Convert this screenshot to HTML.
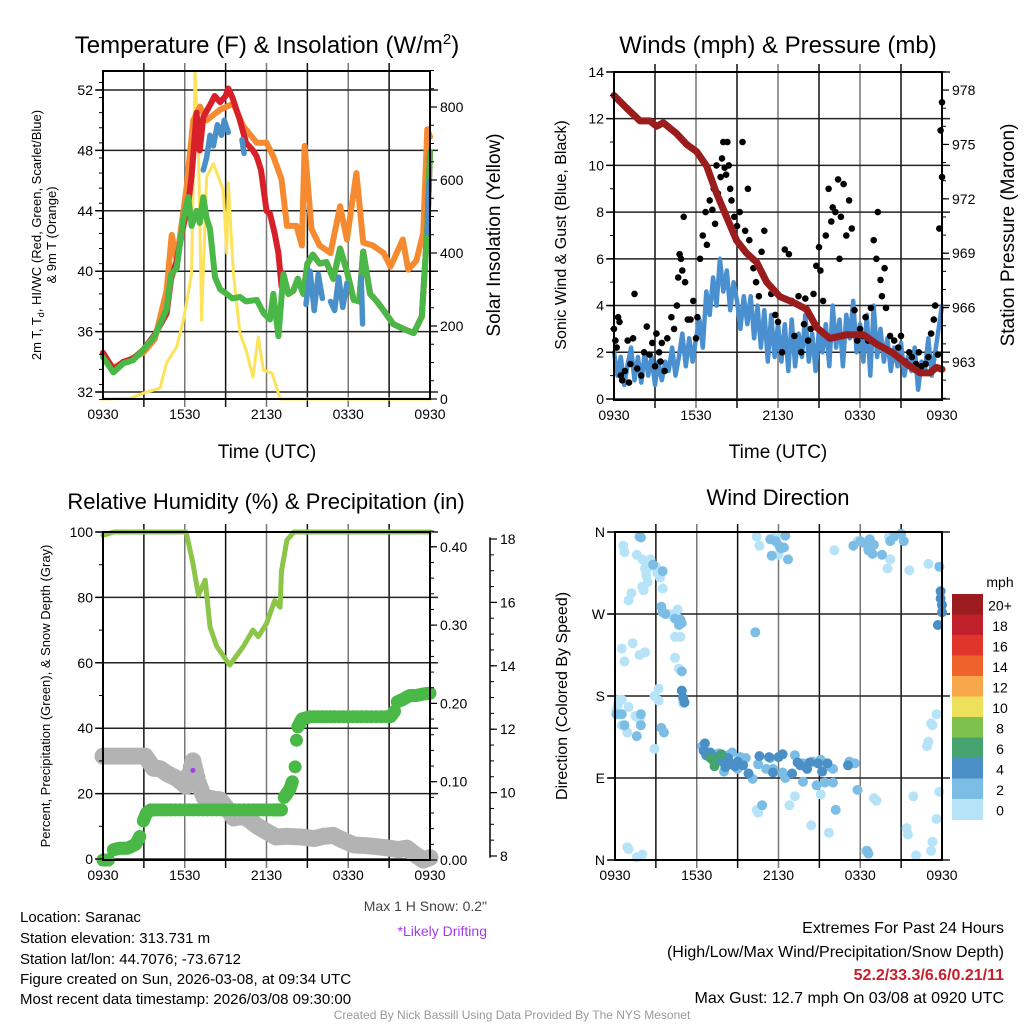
<!DOCTYPE html>
<html><head><meta charset="utf-8"><style>
html,body{margin:0;padding:0;background:#fff;}
svg{display:block;font-family:"Liberation Sans",Arial,sans-serif;}
</style></head><body>
<svg id="chart" width="1024" height="1024" viewBox="0 0 1024 1024">
<rect width="1024" height="1024" fill="#fff"/>
<g id="grid"></g>
<g id="marks"></g>
<g id="axes"></g>
<g id="texts">
<text x="267" y="53" font-size="24" text-anchor="middle">Temperature (F) &amp; Insolation (W/m<tspan dy="-9" font-size="15">2</tspan><tspan dy="9">)</tspan></text>
<text x="778" y="53" font-size="24" text-anchor="middle">Winds (mph) &amp; Pressure (mb)</text>
<text x="266" y="509" font-size="22" text-anchor="middle">Relative Humidity (%) &amp; Precipitation (in)</text>
<text x="778" y="505" font-size="22" text-anchor="middle">Wind Direction</text>
<text x="267" y="458" font-size="19" text-anchor="middle">Time (UTC)</text>
<text x="778" y="458" font-size="19" text-anchor="middle">Time (UTC)</text>
<text transform="translate(41,235) rotate(-90)" font-size="13" text-anchor="middle">2m T, T<tspan dy="3" font-size="9">d</tspan><tspan dy="-3">, HI/WC (Red, Green, Scarlet/Blue)</tspan></text>
<text transform="translate(56,235) rotate(-90)" font-size="13" text-anchor="middle">&amp; 9m T (Orange)</text>
<text transform="translate(500,235) rotate(-90)" font-size="19" text-anchor="middle">Solar Insolation (Yellow)</text>
<text transform="translate(566,235) rotate(-90)" font-size="16" text-anchor="middle">Sonic Wind &amp; Gust (Blue, Black)</text>
<text transform="translate(1014,235) rotate(-90)" font-size="19" text-anchor="middle">Station Pressure (Maroon)</text>
<text transform="translate(50,696) rotate(-90)" font-size="13" text-anchor="middle">Percent, Precipitation (Green), &amp; Snow Depth (Gray)</text>
<text transform="translate(567,696) rotate(-90)" font-size="16" text-anchor="middle">Direction (Colored By Speed)</text>
<text x="1000" y="587" font-size="14" text-anchor="middle">mph</text>
<g font-size="15">
<text x="20" y="922">Location: Saranac</text>
<text x="20" y="943">Station elevation: 313.731 m</text>
<text x="20" y="964">Station lat/lon: 44.7076; -73.6712</text>
<text x="20" y="984">Figure created on Sun, 2026-03-08, at 09:34 UTC</text>
<text x="20" y="1004">Most recent data timestamp: 2026/03/08 09:30:00</text>
</g>
<text x="487" y="911" font-size="14" fill="#444" text-anchor="end">Max 1 H Snow: 0.2"</text>
<text x="487" y="936" font-size="14" fill="#a53be8" text-anchor="end">*Likely Drifting</text>
<text x="1004" y="933" font-size="16" text-anchor="end">Extremes For Past 24 Hours</text>
<text x="1004" y="957" font-size="16" text-anchor="end">(High/Low/Max Wind/Precipitation/Snow Depth)</text>
<text x="1004" y="980" font-size="16" font-weight="bold" fill="#c8202a" text-anchor="end">52.2/33.3/6.6/0.21/11</text>
<text x="1004" y="1003" font-size="16" text-anchor="end">Max Gust: 12.7 mph On 03/08 at 0920 UTC</text>
<text x="512" y="1019" font-size="12" fill="#999" text-anchor="middle">Created By Nick Bassill Using Data Provided By The NYS Mesonet</text>
</g>
</svg>
<script>
// ---- data (hours since 0930 UTC) ----
const timeTickLabels = ["0930","1530","2130","0330","0930"];
const redT = [0,0.76,1.5,2.2,2.96,3.8,4.67,5.0,5.41,5.9,6.26,6.5,6.87,7.1,7.36,7.85,8.2,8.6,9.0,9.2,9.5,10.05,10.5,11.0,11.28,11.6,12.0,12.26,12.6,12.87,13.1];
const redV = [34.6,33.5,34.0,34.2,34.8,35.8,37.2,39.5,40.7,43.0,44.5,46.3,50.5,48.0,50.2,51.0,51.6,51.2,51.6,52.1,51.5,50.0,48.5,48.0,47.6,46.7,44.0,43.8,42.5,41.2,39.0];
const greenT = [0,0.76,1.5,2.2,2.96,3.8,4.67,5.0,5.41,5.9,6.26,6.5,6.87,7.1,7.36,7.6,7.85,8.22,8.6,9.08,9.5,10.05,10.5,11.28,11.8,12.26,12.5,12.87,13.24,13.6,13.97,14.3,14.7,15.0,15.4,15.9,16.4,16.9,17.4,17.9,18.4,18.8,19.1,19.6,20.1,20.6,21.3,22.0,22.8,23.4,23.8,24];
const greenV = [34.3,33.3,33.9,34.1,34.8,35.7,37.5,39.8,40.2,43.5,44.9,43.0,44.0,43.2,44.9,43.5,42.8,39.6,38.8,38.5,38.2,38.3,38.0,38.1,37.2,36.8,38.5,35.7,39.8,38.5,38.7,39.5,38.5,40.5,41.1,40.5,40.6,39.5,41.5,40.0,38.1,38.0,41.3,38.5,38.0,37.4,36.5,36.2,35.9,37.0,42.8,47.9];
const orangeT = [0,0.76,2.96,3.8,4.67,5.04,5.41,6.14,6.63,7.12,7.6,8.6,9.57,10.3,11.28,12.0,12.5,13.1,13.5,14.2,14.6,14.8,15.3,15.9,16.7,17.4,17.9,18.6,19.1,19.8,20.6,21.1,22.0,22.4,23.0,23.5,23.8,24];
const orangeV = [34.4,33.6,34.6,35.5,38.7,42.4,40.7,45.6,50.0,50.9,50.0,50.7,51.1,49.6,48.5,48.5,47.6,46.1,43.0,43.0,41.7,48.3,42.8,41.7,41.2,44.3,42.1,46.5,41.9,41.7,41.2,40.3,42.1,40.1,40.7,42.5,49.4,48.9];
const blueT = [7.36,7.6,7.85,8.1,8.4,8.7,8.9,9.2,null,10.2,10.35,null,14.9,15.2,15.5,15.8,16.1,null,16.7,17.0,17.3,17.6,17.9,null,18.95,19.05,null,23.8,23.95];
const blueV = [46.7,47.5,49.0,48.3,49.7,49.0,50.0,49.2,null,48.7,47.8,null,37.8,40.0,37.4,39.8,38.2,null,38.0,37.4,39.6,37.6,39.2,null,39.6,36.5,null,42.5,46.0];
const solarT = [0,2.0,2.96,4.18,4.67,5.41,5.9,6.26,6.5,6.75,7.0,7.24,7.6,8.1,8.83,9.08,9.2,9.57,10.05,10.5,11.0,11.4,11.77,12.4,13.0,24];
const solarV = [0,2,16,30,99,143,216,290,345,897,700,216,608,645,572,400,592,345,181,134,60,170,79,71,0,0];
// winds
const sonicV = [2.0,1.0,1.8,0.6,1.5,2.2,0.8,1.8,0.7,2.0,1.0,1.8,0.6,1.6,0.8,1.6,
 1.2,2.2,1.0,1.8,2.8,1.4,2.6,1.6, 2.6,3.4,2.2,4.6,3.6,5.2,4.0,6.0, 4.6,5.5,3.8,5.0,4.2,3.0,4.4,3.2,
 4.4,2.6,4.0,2.2,3.8,1.6,3.6,1.8, 3.2,1.6,3.2,1.2,3.4,1.4,2.8,1.8, 3.6,1.6,2.8,1.2,3.0,2.0,3.2,1.4,
 4.0,2.2,3.4,1.4,3.6,2.6,4.2,2.0, 3.2,1.6,3.6,1.0,4.0,1.8,3.0,1.6, 2.6,1.2,2.2,1.4,2.4,1.0,1.8,1.2,
 2.2,0.4,1.6,1.2,2.6,1.0,2.0,3.0,4.0];
const gustT = [0.0,0.1,0.2,0.3,0.4,0.5,0.6,0.8,1.0,1.1,1.2,1.4,1.5,1.7,2.0,2.2,2.4,2.6,2.8,3.0,3.1,3.3,3.4,3.5,3.7,3.9,4.2,4.4,4.6,4.7,4.8,4.9,5.0,5.1,5.2,5.4,5.6,5.8,6.0,6.1,6.3,6.5,6.7,6.8,7.0,7.2,7.3,7.4,7.5,7.6,7.8,7.9,8.0,8.1,8.2,8.3,8.4,8.5,8.6,8.8,9.0,9.2,9.4,9.6,9.8,9.9,10.2,10.4,10.6,10.8,11.0,11.2,11.5,11.8,12.0,12.3,12.5,12.8,13.0,13.2,13.5,13.7,13.9,14.0,14.2,14.4,14.6,14.8,15.0,15.1,15.3,15.5,15.7,15.9,16.0,16.2,16.4,16.5,16.6,16.8,17.0,17.2,17.4,17.6,17.8,18.0,18.2,18.4,18.6,18.8,19.0,19.2,19.3,19.5,19.6,19.8,19.9,20.2,20.5,20.8,21.0,21.3,21.6,21.8,22.1,22.3,22.5,22.8,23.0,23.2,23.4,23.5,23.7,23.8,23.9,24.0,24.0];
const gustV = [3.0,2.5,2.2,3.5,3.3,1.0,0.8,1.2,2.5,0.7,1.5,2.6,4.5,1.3,1.0,2.0,3.1,1.9,2.4,1.4,2.8,2.0,1.6,2.4,1.2,2.6,3.5,3.0,4.0,5.2,6.2,6.0,5.5,7.8,5.0,3.4,3.4,4.2,2.6,3.5,6.0,7.0,8.0,6.6,8.5,8.1,9.0,7.5,10.0,8.8,9.5,10.3,11.0,9.9,9.6,11.0,10.0,9.0,8.5,7.8,7.4,8.0,11.0,7.2,9.0,6.8,5.6,5.0,4.4,6.3,7.2,5.0,4.5,3.6,3.3,2.0,6.4,6.2,4.2,2.7,4.4,2.0,3.2,4.3,2.5,3.0,4.5,5.7,6.5,5.5,4.2,7.0,9.0,7.6,8.2,8.0,9.4,6.0,7.8,9.2,7.0,8.5,7.3,3.8,2.5,3.0,2.7,3.5,2.5,3.9,6.8,6.0,8.0,5.1,4.4,5.6,3.9,2.7,2.5,2.2,2.7,1.6,2.0,1.8,1.5,2.0,1.4,1.5,1.8,2.8,3.4,4.0,1.9,7.3,11.5,12.7,9.5];
const presT = [0,0.93,1.9,2.63,3.12,3.61,4.58,5.32,6.05,6.78,7.51,8.24,8.97,9.7,10.44,11.17,12.14,13.1,14.1,14.83,15.8,17.0,18.24,19.2,20.4,21.4,22.4,23.1,23.6,24];
const presV = [977.7,977.0,976.3,976.3,976.0,976.2,975.6,975.0,974.6,973.8,972.3,971.0,969.7,969.0,968.5,967.4,966.6,966.3,965.9,964.9,964.3,964.5,964.5,964.0,963.5,962.9,962.4,962.4,962.7,962.6];
// humidity / precip / snow
const rhT = [0,0.8,6.1,6.6,7.0,7.5,7.85,8.35,9.3,10.3,11.0,11.4,12.0,12.6,13.0,13.1,13.5,14.0,24];
const rhV = [99,100,100,90.5,80.7,85.3,71,65,59.3,65,70,68,72,79,77,88,97.5,100,100];
const precipT = [0,0.4,0.76,1.2,1.8,2.4,2.7,2.96,3.2,3.5,5,7,9,11,12.5,13.1,13.3,13.5,13.7,13.9,14.1,14.2,14.3,14.6,15.2,17,19,21.1,21.4,21.6,22.0,22.5,23.0,23.5,24];
const precipV = [0,0,0.013,0.015,0.015,0.02,0.03,0.05,0.06,0.064,0.064,0.064,0.064,0.064,0.064,0.064,0.08,0.085,0.09,0.1,0.119,0.153,0.17,0.18,0.183,0.183,0.183,0.183,0.19,0.202,0.205,0.21,0.21,0.212,0.213];
const snowT = [0,1,2,3.1,3.7,4.2,4.7,5.4,6.1,6.6,7.0,7.4,8.0,8.6,9.1,9.6,10.3,10.8,11.3,11.8,12.3,12.7,13.5,14.5,15.5,16.2,16.9,17.6,18.4,19.2,20.0,21.0,21.7,22.3,22.9,23.5,24];
const snowV = [11.15,11.15,11.15,11.15,10.77,10.75,10.6,10.45,10.2,11.0,10.3,9.87,9.8,9.77,9.5,9.2,9.25,9.12,8.95,8.82,8.7,8.6,8.62,8.6,8.55,8.62,8.65,8.5,8.35,8.33,8.3,8.25,8.2,8.25,8.05,7.87,7.95];
// wind direction [hour, degrees, speed]
const dirT = [0.6,0.7,1.6,2.0,2.5,2.3,2.2,2.3,2.4,2.0,2.1,1.2,1.0,0.5,1.3,2.2,1.8,0.7,0.3,0.5,0.2,0.1,1.0,1.5,1.8,0.5,0.9,2.9,2.9,3.2,3.2,3.3,3.0,2.6,3.1,3.5,4.0,4.3,4.6,4.7,4.4,4.8,4.4,4.7,5.0,5.0,0.9,1.0,2.0,1.6,10.4,10.6,11.8,11.9,12.0,16.1,17.8,20.1,20.2,21.6,20.0,23.0,23.8,23.6,23.2,23.3,23.0,22.9,21.9,21.4,21.5,23.6,23.3,23.2,22.1,18.4,15.7,14.4,15.1,10.4,10.5,13.2,19.2,19.0,12.8,
 1.8,1.9,2.8,3.5,3.4,3.5,3.7,4.4,4.8,4.9,4.7,4.9,3.6,3.4,0.5,0.7,1.6,1.9,1.9,0.1,11.4,11.8,12.1,12.4,12.2,11.5,12.7,12.5,17.5,18.0,18.7,18.3,19.0,18.6,18.9,19.6,20.2,20.5,21.0,21.2,10.3,23.8,6.4,6.6,7.6,8.3,9.2,10.5,11.1,11.6,12.3,13.2,13.8,14.5,15.1,15.6,16.0,17.2,17.6,8.0,9.0,10.1,12.5,13.8,14.8,15.4,16.0,10.8,16.2,17.8,18.5,18.6,8.6,9.6,11.4,
 6.6,6.5,6.8,7.0,7.2,7.5,7.8,8.3,8.6,9.0,9.4,10.6,11.3,12.0,12.3,13.4,13.6,14.1,14.3,14.9,15.6,17.1,6.7,7.3,8.1,8.8,9.8,11.6,13.0,15.2,4.9,5.0,5.1,23.9,23.9,24.0,24.0,23.7,7.3,7.9,
 7.0,7.2,7.8,7.3];
const dirV = [345,338,335,330,322,318,320,312,305,300,296,293,285,232,238,228,225,218,176,176,170,165,168,158,155,148,140,122,180,175,188,310,322,330,315,298,270,270,275,265,245,245,222,210,175,172,14,12,6,3,355,345,356,348,335,340,350,355,330,318,320,325,75,160,150,148,130,125,70,35,28,45,20,10,5,10,30,38,72,55,52,70,65,68,60,
 355,354,324,317,278,272,270,265,264,260,258,207,140,145,160,148,136,160,148,160,352,350,344,343,342,334,330,356,345,350,352,348,346,340,336,335,350,355,358,350,250,322,125,120,117,115,113,105,100,100,96,115,106,108,110,103,100,108,106,97,100,89,90,86,82,85,85,60,55,77,10,7,118,112,112,
 128,120,116,118,114,110,110,112,105,108,104,114,113,113,116,107,104,100,107,106,106,104,115,107,102,103,95,96,95,97,186,178,173,295,287,280,272,258,108,108,
 112,110,116,103];
const dirS = [1,1,1,1,1,1,1,1,1,1,1,1,1,1,1,1,1,1,1,1,1,1,1,1,1,1,1,1,1,1,1,1,1,1,1,1,1,1,1,1,1,1,1,1,1,1,1,1,1,1,1,1,1,1,1,1,1,1,1,1,1,1,1,1,1,1,1,1,1,1,1,1,1,1,1,1,1,1,1,1,1,1,1,1,1,
 3,3,3,3,3,3,3,3,3,3,3,3,3,3,3,3,3,3,3,3,3,3,3,3,3,3,3,3,3,3,3,3,3,3,3,3,3,3,3,3,3,3,3,3,3,3,3,3,3,3,3,3,3,3,3,3,3,3,3,3,3,3,3,3,3,3,3,3,3,3,3,3,3,3,3,
 5,5,5,5,5,5,5,5,5,5,5,5,5,5,5,5,5,5,5,5,5,5,5,5,5,5,5,5,5,5,5,5,5,5,5,5,5,5,5,5,
 7,7,7,7];
const cbLabels = ["20+","18","16","14","12","10","8","6","4","2","0"];
const cbColors = ["#9b1b1e","#c0202a","#e0352a","#f0622b","#f8a84a","#ede05b","#7ec24d","#44a36e","#4a8fc6","#7cbde6","#b6e3f8"];

// ---- scales ----
const NS="http://www.w3.org/2000/svg";
const P1={L:103,R:430,T:71,B:399}, P2={L:614,R:942,T:72,B:400}, P3={L:103,R:430,T:532,B:860}, P4={L:615,R:942,T:532,B:860};
const xs=(P,h)=>P.L+h*(P.R-P.L)/24;
const yTemp=v=>90+(52-v)*15.1;
const ySolar=v=>399-v*0.365;
const yWind=v=>399-v*23.36;
const yPres=v=>362-(v-963)*18.13;
const yPct=v=>859-v*3.27;
const yPrecip=v=>860-v*783;
const ySnow=v=>856-(v-8)*31.7;
const yDir=v=>860-v*0.911;
const G=document.getElementById('grid'), M=document.getElementById('marks'), A=document.getElementById('axes');
function mk(tag,parent,attrs){const e=document.createElementNS(NS,tag);for(const k in attrs)e.setAttribute(k,attrs[k]);parent.appendChild(e);return e;}
function pathFrom(P,ts,vs,yf){let d='',pen=false;for(let i=0;i<ts.length;i++){if(ts[i]===null||vs[i]===null){pen=false;continue;}d+=(pen?'L':'M')+xs(P,ts[i]).toFixed(1)+','+yf(vs[i]).toFixed(1);pen=true;}return d;}
function line(P,ts,vs,yf,color,w,name){const e=mk('path',M,{d:pathFrom(P,ts,vs,yf),fill:'none',stroke:color,'stroke-width':w,'stroke-linejoin':'round','stroke-linecap':'round'});
 
 return e;}
function dots(P,ts,vs,yf,color,r,name){const g=mk('g',M,{fill:color});
 
 
 for(let i=0;i<ts.length;i++){mk('circle',g,{cx:xs(P,ts[i]).toFixed(1),cy:yf(vs[i]).toFixed(1),r:r});}}
function grid(P,yVals,yf){for(let h=3;h<24;h+=3){const l=mk('line',G,{x1:xs(P,h),x2:xs(P,h),y1:P.T-8,y2:P.B+8,stroke:(h%6===0)?'#777':'#111','stroke-width':1.5});
 
 }
 yVals.forEach(v=>{const l=mk('line',G,{x1:P.L-8,x2:P.R+8,y1:yf(v),y2:yf(v),stroke:'#222','stroke-width':1.5});
 
 });}
function frame(P,name){const r=mk('rect',A,{x:P.L,y:P.T,width:P.R-P.L,height:P.B-P.T,fill:'none',stroke:'#000','stroke-width':2});
 
 
 for(let i=0;i<5;i++){const t=mk('text',A,{x:xs(P,i*6),y:P.B+20,'font-size':14,'text-anchor':'middle'});t.textContent=timeTickLabels[i];
 
 }}
function yAxis(x,dir,vals,yf,labels,minor,name){const g=mk('g',A,{});
 
 
 vals.forEach((v,i)=>{mk('line',g,{x1:x,x2:x+dir*7,y1:yf(v),y2:yf(v),stroke:'#000','stroke-width':1.2});
  const t=mk('text',g,{x:x+dir*10,y:yf(v)+5,'font-size':14,'text-anchor':dir<0?'end':'start'});t.textContent=labels[i];});
 minor.forEach(v=>mk('line',g,{x1:x,x2:x+dir*4,y1:yf(v),y2:yf(v),stroke:'#000','stroke-width':1}));}
const range=(a,b,s)=>{const r=[];for(let v=a;v<=b+1e-9;v+=s)r.push(+v.toFixed(4));return r;};

// ---- panel 1 ----
grid(P1,[52,48,44,40,36,32],yTemp);
line(P1,solarT,solarV,ySolar,'#fde35a',3,'solar-insolation-line');
line(P1,orangeT,orangeV,yTemp,'#f58a30',6,'temp-9m-line');
const redAllT=redT.concat(greenT.filter(t=>t>=13.24)), redAllV=redV.concat(greenV.filter((v,i)=>greenT[i]>=13.24));
line(P1,redAllT,redAllV,yTemp,'#d7202a',6,'temp-2m-line');
line(P1,greenT,greenV,yTemp,'#4ab847',6,'dewpoint-line');
line(P1,blueT,blueV,yTemp,'#4a90c8',5.5,'windchill-line');
frame(P1,'temp-plot-frame');
yAxis(P1.L,-1,[52,48,44,40,36,32],yTemp,["52","48","44","40","36","32"],range(31.5,53,1),'temp-y-axis');
yAxis(P1.R,1,[0,200,400,600,800],ySolar,["0","200","400","600","800"],range(0,900,50),'solar-y-axis');

// ---- panel 2 ----
grid(P2,range(0,14,2),yWind);
line(P2,sonicV.map((v,i)=>i*0.25),sonicV,yWind,'#4a90d0',4.5,'sonic-wind-line');
dots(P2,gustT,gustV,yWind,'#000',3.3,'gust-points');
line(P2,presT,presV,yPres,'#9b1c1c',7,'pressure-line');
frame(P2,'wind-plot-frame');
yAxis(P2.L,-1,range(0,14,2),yWind,range(0,14,2).map(String),range(0,14,1),'wind-y-axis');
yAxis(P2.R,1,[963,966,969,972,975,978],yPres,["963","966","969","972","975","978"],range(961,979,1),'pressure-y-axis');

// ---- panel 3 ----
grid(P3,range(0,100,20),yPct);
line(P3,rhT,rhV,yPct,'#8dc549',5,'relative-humidity-line');
dots(P3,snowT,snowV,ySnow,'#b3b3b3',8.5,'snow-depth-points');
(function(){const g=mk('g',M,{fill:'#b3b3b3'});
 
 
 for(let i=0;i<snowT.length-1;i++){for(let k=1;k<4;k++){const f=k/4;mk('circle',g,{cx:xs(P3,snowT[i]+(snowT[i+1]-snowT[i])*f),cy:ySnow(snowV[i]+(snowV[i+1]-snowV[i])*f),r:8.5});}}})();
(function(){const g=mk('g',M,{fill:'#4ab847'});
 
 
 for(let i=0;i<precipT.length;i++){mk('circle',g,{cx:xs(P3,precipT[i]),cy:yPrecip(precipV[i]),r:6.5});
  if(i<precipT.length-1 && Math.abs(precipV[i+1]-precipV[i])<0.012){for(let k=1;k<6;k++){const f=k/6;mk('circle',g,{cx:xs(P3,precipT[i]+(precipT[i+1]-precipT[i])*f),cy:yPrecip(precipV[i]+(precipV[i+1]-precipV[i])*f),r:6.5});}}}})();
(function(){const c=mk('circle',M,{cx:xs(P3,6.6),cy:ySnow(10.7),r:2.5,fill:'#a53be8'});
 
 })();
frame(P3,'rh-plot-frame');
yAxis(P3.L,-1,range(0,100,20),yPct,range(0,100,20).map(String),range(0,100,10),'percent-y-axis');
yAxis(P3.R,1,[0,0.1,0.2,0.3,0.4],yPrecip,["0.00","0.10","0.20","0.30","0.40"],range(0,0.42,0.02),'precip-y-axis');
(function(){const l=mk('line',A,{x1:490,x2:490,y1:ySnow(18.05),y2:ySnow(7.95),stroke:'#000','stroke-width':1.5});
 
 })();
yAxis(490,1,range(8,18,2),ySnow,range(8,18,2).map(String),range(8,18,0.5),'snow-y-axis');

// ---- panel 4 ----
grid(P4,[0,90,180,270,360],yDir);
(function(){const g=mk('g',M,{});
 
 
 for(let i=0;i<dirT.length;i++){const s=dirS[i];const idx=10-Math.min(10,Math.floor(s/2));
  mk('circle',g,{cx:xs(P4,dirT[i]).toFixed(1),cy:yDir(dirV[i]).toFixed(1),r:5,fill:cbColors[idx]});}})();
frame(P4,'direction-plot-frame');
yAxis(P4.L,-1,[0,90,180,270,360],yDir,["N","E","S","W","N"],[],'direction-y-axis');
(function(){const g=mk('g',A,{});
 
 
 const top=594,h=20.5;
 cbColors.forEach((c,i)=>{mk('rect',g,{x:952,y:top+i*h,width:31,height:h+0.5,fill:c});
  const t=mk('text',g,{x:1000,y:top+i*h+h/2+6,'font-size':14,'text-anchor':'middle'});t.textContent=cbLabels[i];});})();
</script>
</body></html>
